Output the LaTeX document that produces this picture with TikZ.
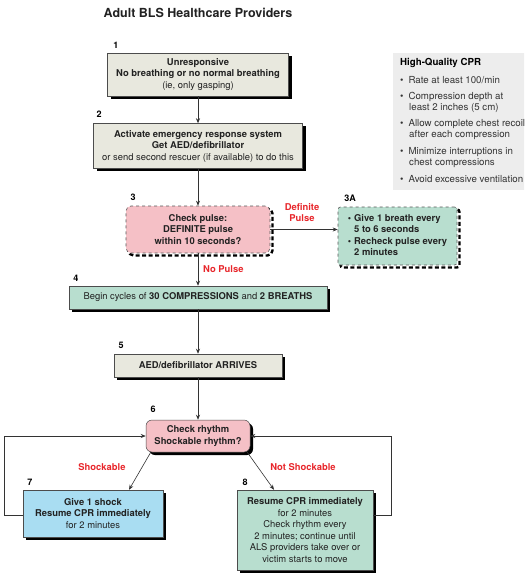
\documentclass[tikz,border=0pt]{standalone}
\usepackage{fontspec}
\setmainfont{TeX Gyre Heros}
\usetikzlibrary{shadows,arrows.meta}
\definecolor{beige}{HTML}{E8E8DE}
\definecolor{pinkb}{HTML}{F5C0C6}
\definecolor{greenb}{HTML}{B8DECF}
\definecolor{blueb}{HTML}{A9DDF2}
\definecolor{grayb}{HTML}{EDEDED}
\definecolor{redl}{HTML}{E8262B}
\definecolor{txt}{HTML}{222222}
\begin{document}
\begin{tikzpicture}[x=1pt,y=-1pt,
  font=\fontsize{9.4}{11.5}\selectfont, text=txt,
  box/.style={draw=black!70, line width=0.5pt, align=center, inner sep=0pt,
    drop shadow={shadow xshift=3pt, shadow yshift=-3pt, fill=black, opacity=1}},
  dbox/.style={draw=black!65, line width=0.6pt, dashed, align=center, inner sep=0pt,
    drop shadow={shadow xshift=2.5pt, shadow yshift=-2.5pt, fill=none, draw=black, opacity=1,
      line width=2.4pt, dash pattern=on 4pt off 2.5pt}},
  num/.style={font=\fontsize{9}{10}\selectfont\bfseries, text=black, inner sep=0pt},
  lab/.style={font=\fontsize{9.4}{11}\selectfont\bfseries, text=redl, align=center, inner sep=0pt},
  arr/.style={draw=black!80, line width=0.6pt, -{Stealth[length=5pt,width=4pt]}},
  cpr/.style={anchor=west, inner sep=0pt, text=black!80, font=\fontsize{9.7}{11}\selectfont},
  dot/.style={anchor=west, inner sep=0pt, text=black!80, font=\fontsize{9.7}{11}\selectfont}]
\clip (0,0) rectangle (524,577);
\fill[white] (0,0) rectangle (524,577);

\node (title) at (198,13) {\fontsize{12.5}{14}\selectfont\bfseries Adult BLS Healthcare Providers};

% main boxes
\node[box, fill=beige, minimum width=181pt, minimum height=43pt] (b1) at (198,74.5)
  {\bfseries Unresponsive\\ \bfseries No breathing or no normal breathing\\ (ie, only gasping)};
\node[box, fill=beige, minimum width=209pt, minimum height=45pt] (b2) at (198,146)
  {\bfseries Activate emergency response system\\ \bfseries Get AED/defibrillator\\ or send second rescuer (if available) to do this};
\node[dbox, fill=pinkb, rounded corners=5pt, minimum width=144pt, minimum height=47pt] (b3) at (198,229.5)
  {\bfseries Check pulse:\\ \bfseries DEFINITE pulse\\ \bfseries within 10 seconds?};
\node[dbox, fill=greenb, rounded corners=2.5pt, minimum width=119pt, minimum height=58pt, align=left] (b3a) at (397.5,236)
  {\bfseries\begin{tabular}{@{}l@{\hspace{3pt}}l@{}}\textbullet & Give 1 breath every\\ & 5 to 6 seconds\\ \textbullet & Recheck pulse every\\ & 2 minutes\end{tabular}};
\node[box, fill=greenb, minimum width=258pt, minimum height=23pt] (b4) at (198,297.5)
  {Begin cycles of \textbf{30 COMPRESSIONS} and \textbf{2 BREATHS}};
\node[box, fill=beige, minimum width=168pt, minimum height=23pt] (b5) at (198,365.5)
  {\bfseries AED/defibrillator ARRIVES};
\node[box, fill=pinkb, rounded corners=6pt, minimum width=104pt, minimum height=32pt] (b6) at (198,436)
  {\bfseries Check rhythm\\ \bfseries Shockable rhythm?};
\node[box, fill=blueb, minimum width=140pt, minimum height=47pt] (b7) at (93,513.5)
  {\bfseries Give 1 shock\\ \bfseries Resume CPR immediately\\ for 2 minutes};
\node[box, fill=greenb, minimum width=136pt, minimum height=80pt] (b8) at (305,530)
  {\bfseries Resume CPR immediately\\ for 2 minutes\\ Check rhythm every\\ 2 minutes; continue until\\ ALS providers take over or\\ victim starts to move};

% numbers
\node[num] (n1) at (116,45) {1};
\node[num] (n2) at (99,114) {2};
\node[num] (n3) at (133,197) {3};
\node[num] (n3a) at (350,198) {3A};
\node[num] (n4) at (76,278) {4};
\node[num] (n5) at (121,345) {5};
\node[num] (n6) at (153,409) {6};
\node[num] (n7) at (30,482) {7};
\node[num] (n8) at (245,482) {8};

% labels
\node[lab] (ldef) at (302,213) {Definite\\Pulse};
\node[lab, anchor=west] (lno) at (203,269) {No Pulse};
\node[lab] (lsh) at (102,467) {Shockable};
\node[lab] (lns) at (303,467) {Not Shockable};

% connectors
\draw[arr] (b1) -- (b2);
\draw[arr] (b2) -- (b3);
\draw[arr] (b3.east) -- (b3a.west |- b3.east);
\draw[arr] (b3) -- (b4);
\draw[arr] (b4) -- (b5);
\draw[arr] (b5) -- (b6);
\draw[arr] ([xshift=5pt]b6.south west) -- ([xshift=36pt]b7.north);
\draw[arr] ([xshift=-3pt]b6.south east) -- ([xshift=-31pt]b8.north);
\coordinate (c7) at (4,515);
\coordinate (c8) at (391,515);
\draw[arr] (b7.west |- c7) -- (c7) |- (b6.west);
\draw[arr] (b8.east |- c8) -- (c8) |- (b6.east);

% CPR box
\node[fill=grayb, inner sep=0pt, minimum width=140pt, minimum height=137pt, anchor=north west] (cprbox) at (393,53) {};
\node[cpr, font=\fontsize{9.7}{11}\selectfont\bfseries, text=black] (cprt) at (400,63) {High-Quality CPR};
\foreach \y/\t [count=\i] in {80/{Rate at least 100/min}, 97/{Compression depth at}, 124/{Allow complete chest recoil}, 152/{Minimize interruptions in}, 179/{Avoid excessive ventilation}}
  \node[dot] (d\i) at (400,\y) {\textbullet\hspace{5pt}\t};
\node[cpr] (e1) at (409,108) {least 2 inches (5 cm)};
\node[cpr] (e2) at (409,135) {after each compression};
\node[cpr] (e3) at (409,163) {chest compressions};
\end{tikzpicture}
\end{document}
